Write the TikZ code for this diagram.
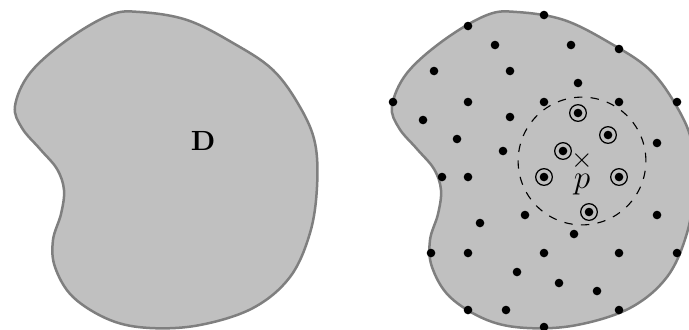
\documentclass[tikz,border=0pt]{standalone}
\usetikzlibrary{positioning}
\definecolor{regfill}{HTML}{C0C0C0}
\definecolor{regline}{HTML}{7F7F7F}
% outline of the region D (pixel units, y downwards)
\newcommand{\regionpath}{plot[smooth cycle,tension=0.6] coordinates {(140,12) (187,20) (233,43) (273,70) (300,107) (315,143) (317,187) (310,233) (290,277) (253,308) (200,325) (150,328) (110,320) (73,297) (55,267) (53,240) (61,214) (64,190) (57,169) (40,149) (22,128) (15,106) (30,73) (67,40) (110,15)}}

\begin{document}
\begin{tikzpicture}[x=0.36pt,y=-0.36pt,
  region/.style={fill=regfill,draw=regline,line width=0.9pt},
  dot/.style={circle,fill=black,inner sep=0pt,minimum size=3.1pt},
  ring/.style={circle,draw=black,line width=0.45pt,inner sep=0pt,minimum size=6pt},
  lab/.style={inner sep=0pt}]
\useasboundingbox (0,0) rectangle (689,329);
\clip (0,0) rectangle (689,329);
% left: the region
\draw[region] \regionpath;
\node[lab,font=\bfseries] (lblD) at (203,141) {D};
% right: the region with sample points
\begin{scope}[xshift=377*0.36pt]
\draw[region] \regionpath;
\end{scope}
\foreach \x/\y [count=\i] in {544/15,468/26,495/45,571/45,619/49,434/71,510/71,578/83,
  393/102,468/102,544/102,619/102,677/102,423/120,510/117,457/139,503/151,657/143,
  442/177,468/177,525/215,657/215,480/223,574/234,431/253,468/253,544/253,619/253,677/253,
  517/272,559/283,597/291,468/310,506/310,619/310,544/327}
  \node[dot] (d\i) at (\x,\y) {};
% points near p
\foreach \x/\y [count=\i] in {578/113,608/135,563/151,544/177,619/177,589/212}{
  \node[dot] (s\i) at (\x,\y) {};
  \node[ring] at (s\i) {};
}
\node[lab] (c) at (582,161) {$\times$};
\draw[dashed,line width=0.4pt] (c) circle[radius=23pt];
\node[lab,font=\large] (plab) at (582,185) {$p$};
\end{tikzpicture}
\end{document}
